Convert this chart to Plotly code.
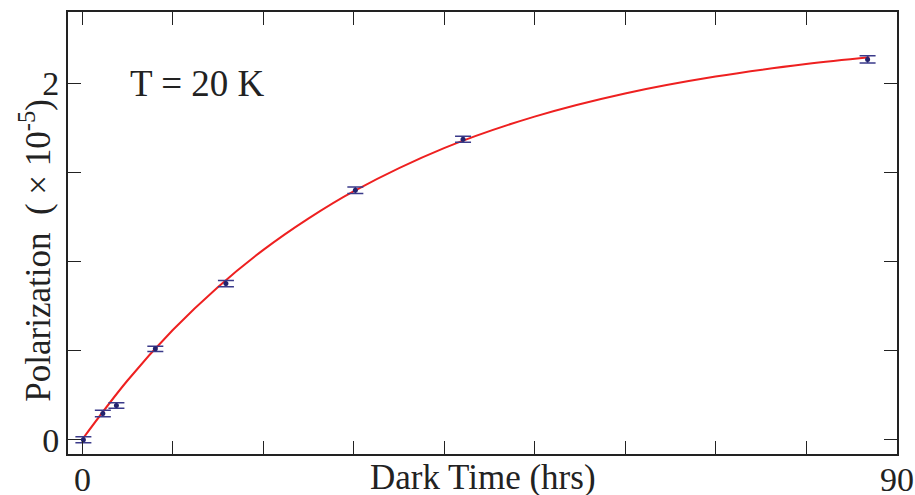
import plotly.graph_objects as go

# Data
dark_time = [0.15, 2.3, 3.8, 8.1, 15.9, 30.2, 42.1, 86.8]
polarization = [0.0, 0.147, 0.192, 0.51, 0.876, 1.40, 1.686, 2.134]
pol_err = [0.017, 0.018, 0.016, 0.015, 0.017, 0.018, 0.017, 0.02]

# Fit curve samples
fit_time = [0, 5, 10, 15, 20, 25, 30, 40, 50, 60, 70, 80, 87]
fit_pol = [0.0, 0.331, 0.614, 0.856, 1.064, 1.241, 1.394, 1.636, 1.813, 1.943, 2.038, 2.108, 2.146]

x_ticks = [0, 10, 20, 30, 40, 50, 60, 70, 80, 90]
x_label_vals = [0, 90]
x_label_text = ["0", "90"]
y_ticks = [0, 0.5, 1.0, 1.5, 2.0]
y_ticktext = ["0", "", "", "", "2"]

FONT = "Liberation Serif"
W, H = 915, 495
ML, MR, MT, MB = 68, 18, 12, 41
INK = "#222222"

fig = go.Figure()
fig.add_trace(go.Scatter(
    x=fit_time, y=fit_pol, mode="lines", line=dict(color="#ee2020", width=2, shape="spline"),
    showlegend=False, hoverinfo="skip"))
fig.add_trace(go.Scatter(
    x=dark_time, y=polarization, mode="markers",
    marker=dict(color="#23236e", size=5),
    error_y=dict(type="data", array=pol_err, color="#3a3a8a", thickness=1.5, width=8),
    showlegend=False))

axis_common = dict(
    showgrid=False, zeroline=False, showline=True, linecolor=INK, linewidth=2,
    mirror="allticks", ticks="inside", ticklen=13, tickwidth=1.2, tickcolor=INK,
    tickfont=dict(family=FONT, size=34, color=INK), automargin=False,
)
fig.update_xaxes(range=[-1.55, 90.05], tickvals=x_ticks, showticklabels=False, **axis_common)
fig.update_yaxes(range=[-0.08, 2.40], tickvals=y_ticks, ticktext=y_ticktext, **axis_common)

annotations = [
    dict(text="T = 20 K", x=12.8, y=2.0, xref="x", yref="y", showarrow=False,
         xanchor="center", yanchor="middle",
         font=dict(family=FONT, size=37, color=INK)),
    dict(text="Dark Time (hrs)", x=0.5, y=0, xref="paper", yref="paper",
         yshift=-23, showarrow=False, xanchor="center", yanchor="middle",
         font=dict(family=FONT, size=35, color=INK)),
    dict(text="Polarization  ( × 10<sup>-5</sup>)", x=0, y=0.46, xref="paper", yref="paper",
         xshift=-32, showarrow=False, textangle=-90, xanchor="center", yanchor="middle",
         font=dict(family=FONT, size=35, color=INK)),
]
for v, t in zip(x_label_vals, x_label_text):
    annotations.append(dict(text=t, x=v, y=0, xref="x", yref="paper", yshift=-25,
                            showarrow=False, xanchor="center", yanchor="middle",
                            font=dict(family=FONT, size=34, color=INK)))

fig.update_layout(
    width=W, height=H,
    margin=dict(l=ML, r=MR, t=MT, b=MB),
    plot_bgcolor="white", paper_bgcolor="white",
    font=dict(family=FONT, color=INK),
    annotations=annotations,
)

fig.write_html("out.html")
